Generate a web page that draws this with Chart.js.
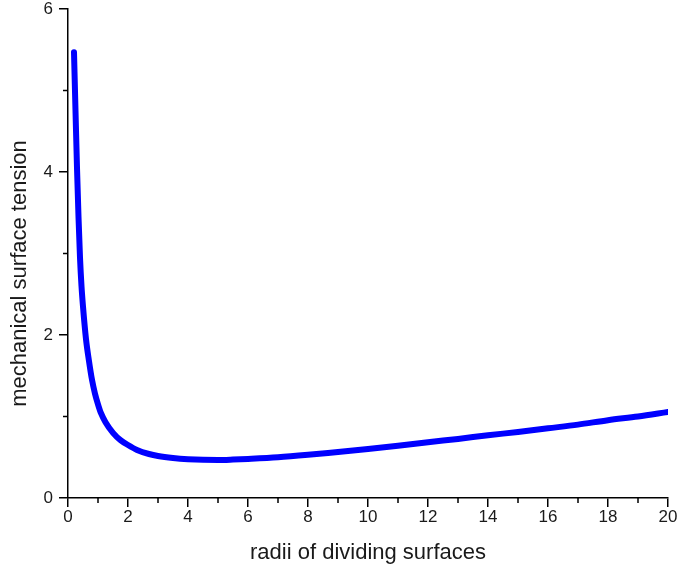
<!DOCTYPE html>
<html>
<head>
<meta charset="utf-8">
<script src="https://cdn.jsdelivr.net/npm/chart.js@4.4.0/dist/chart.umd.min.js"></script>
<style>
  html, body { margin: 0; padding: 0; background: #fff; }
  #wrap { width: 679px; height: 570px; }
</style>
</head>
<body>
<div id="wrap"><canvas id="tensionChart"></canvas></div>
<script>
// radius of the dividing surface
var radii = [0.2, 0.25, 0.3, 0.35, 0.4, 0.45, 0.5, 0.6, 0.7, 0.8, 0.9, 1.0, 1.1, 1.25, 1.5, 1.75,
    2.0, 2.3, 2.7, 3.0, 3.5, 4, 4.5, 5, 5.5, 6, 7, 8, 9, 10, 11, 12, 13, 14, 15, 16, 17, 18, 19, 20];
// mechanical surface tension
var tension = [5.47, 4.75, 4.05, 3.45, 2.95, 2.6, 2.35, 1.95, 1.68, 1.45, 1.28, 1.15, 1.04, 0.93, 0.8, 0.71,
    0.65, 0.59, 0.54, 0.515, 0.49, 0.475, 0.468, 0.467, 0.472, 0.48, 0.5, 0.53, 0.565, 0.6, 0.64, 0.685,
    0.725, 0.77, 0.81, 0.855, 0.9, 0.955, 1.0, 1.055];

var xTicks = [0, 2, 4, 6, 8, 10, 12, 14, 16, 18, 20];
var yTicks = [0, 2, 4, 6];
var xMinor = [1, 3, 5, 7, 9, 11, 13, 15, 17, 19];
var yMinor = [1, 3, 5];

var yTitle = 'mechanical surface tension';

var points = radii.map(function(r, i) { return { x: r, y: tension[i] }; });

// short minor ticks + the y title (sits a bit below the axis middle in the original)
var extras = {
    id: 'extras',
    afterDraw: function(chart) {
        var ctx = chart.ctx, xs = chart.scales.x, ys = chart.scales.y;
        ctx.save();
        ctx.strokeStyle = '#000';
        ctx.lineWidth = 1.5;
        ctx.beginPath();
        xMinor.forEach(function(v) {
            var px = xs.getPixelForValue(v);
            ctx.moveTo(px, ys.bottom);
            ctx.lineTo(px, ys.bottom + 5);
        });
        yMinor.forEach(function(v) {
            var py = ys.getPixelForValue(v);
            ctx.moveTo(xs.left, py);
            ctx.lineTo(xs.left - 5, py);
        });
        ctx.stroke();

        ctx.translate(20, (ys.top + ys.bottom) / 2 + 20);
        ctx.rotate(-Math.PI / 2);
        ctx.fillStyle = '#1a1a1a';
        ctx.font = '22px "Liberation Sans", Arial';
        ctx.textAlign = 'center';
        ctx.textBaseline = 'middle';
        ctx.fillText(yTitle, 0, 0);
        ctx.restore();
    }
};

new Chart(document.getElementById('tensionChart').getContext('2d'), {
    type: 'line',
    data: {
        datasets: [{
            data: points,
            borderColor: '#0000ff',
            borderWidth: 6,
            borderCapStyle: 'round',
            pointRadius: 0,
            cubicInterpolationMode: 'monotone',
            fill: false
        }]
    },
    options: {
        responsive: true,
        maintainAspectRatio: false,
        animation: false,
        layout: { padding: { top: 9, right: 11, left: 0, bottom: 0 } },
        plugins: { legend: { display: false }, tooltip: { enabled: false } },
        scales: {
            x: {
                type: 'linear',
                min: 0, max: 20,
                afterFit: function(s) { s.height = 72; s.paddingLeft = 0; s.paddingRight = 0; },
                afterBuildTicks: function(s) { s.ticks = xTicks.map(function(v) { return { value: v }; }); },
                border: { color: '#000', width: 1.5 },
                grid: { drawOnChartArea: false, color: '#000', lineWidth: 1.5, tickLength: 9 },
                ticks: { color: '#1a1a1a', padding: 0, maxRotation: 0, font: { family: 'Liberation Sans, Arial', size: 17 } },
                title: {
                    display: true, text: 'radii of dividing surfaces', color: '#1a1a1a',
                    padding: { top: 2 },
                    font: { family: 'Liberation Sans, Arial', size: 22 }
                }
            },
            y: {
                type: 'linear',
                min: 0, max: 6,
                afterFit: function(s) { s.width = 68; s.paddingTop = 0; s.paddingBottom = 0; },
                afterBuildTicks: function(s) { s.ticks = yTicks.map(function(v) { return { value: v }; }); },
                border: { color: '#000', width: 1.5 },
                grid: { drawOnChartArea: false, color: '#000', lineWidth: 1.5, tickLength: 9 },
                ticks: { color: '#1a1a1a', padding: 6, font: { family: 'Liberation Sans, Arial', size: 17 } }
            }
        }
    },
    plugins: [extras]
});
</script>
</body>
</html>
